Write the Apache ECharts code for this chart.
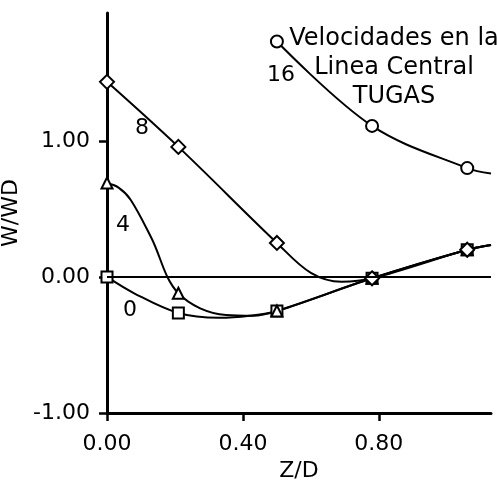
<!DOCTYPE html>
<html>
<head>
<meta charset="utf-8">
<script src="https://cdn.jsdelivr.net/npm/echarts@6/dist/echarts.min.js"></script>
<style>
  html, body { margin: 0; padding: 0; background: #fff; }
  #chart1 { width: 497px; height: 482px; }
</style>
</head>
<body>
<div id="chart1"></div>
<script>
// posiciones Z/D de las estaciones de medida (marcadores)
var zd = [0, 0.21, 0.5, 0.78, 1.06];
var zdFin = 1.13;   // donde acaba el trazo de la curva

// W/WD en los marcadores
var w0 = [0, -0.265, -0.25, -0.01, 0.2];
var w4 = [0.69, -0.12, -0.25, -0.01, 0.2];
var w8 = [1.434, 0.956, 0.25, -0.01, 0.2];
var zd16 = [0.5, 0.78, 1.06];
var w16 = [1.73, 1.11, 0.80];

// puntos leidos sobre el trazo (sin marcador), incluye el final
var traza0x = [0.08, 0.33, 0.42, zdFin];
var traza0y = [-0.12, -0.30, -0.285, 0.235];
var traza4x = [0.035, 0.07, 0.13, 0.35, 0.43, zdFin];
var traza4y = [0.655, 0.566, 0.29, -0.28, -0.285, 0.235];
var traza8x = [0.6, 0.69, zdFin];
var traza8y = [0.03, -0.035, 0.235];
var traza16x = [zdFin];
var traza16y = [0.76];

var xTicks = [0, 0.4, 0.8];
var yTicks = [-1, 0, 1];

var FONT = 'DejaVu Sans';

function makeData(xs, ys, tx, ty) {
    var out = [];
    for (var i = 0; i < xs.length; i++) {
        out.push({ value: [xs[i], ys[i]] });
    }
    for (var j = 0; j < tx.length; j++) {
        out.push({ value: [tx[j], ty[j]], symbol: 'none' });
    }
    out.sort(function (a, b) { return a.value[0] - b.value[0]; });
    return out;
}

function mkSeries(name, data, symbol, size) {
    return {
        type: 'line',
        name: name,
        data: data,
        smooth: 0.35,
        symbol: symbol,
        symbolSize: size,
        lineStyle: { color: '#000', width: 2 },
        itemStyle: { color: '#fff', borderColor: '#000', borderWidth: 2 },
        z: 3
    };
}

var chart = echarts.init(document.getElementById('chart1'));

var s0 = mkSeries('0', makeData(zd, w0, traza0x, traza0y), 'rect', 11);
s0.markLine = {
    silent: true,
    symbol: 'none',
    label: { show: false },
    lineStyle: { color: '#000', width: 2, type: 'solid' },
    data: [{ yAxis: 0 }]
};

var option = {
    animation: false,
    backgroundColor: '#fff',
    textStyle: { fontFamily: FONT },
    grid: { left: 107, right: 6, top: 13, bottom: 69, containLabel: false, outerBoundsMode: 'none' },
    title: {
        text: 'Velocidades en la\nLinea Central\nTUGAS',
        left: 389,
        top: 19,
        textAlign: 'center',
        textStyle: { fontFamily: FONT, fontSize: 24, fontWeight: 'normal', color: '#000', lineHeight: 29, align: 'center' }
    },
    xAxis: {
        type: 'value',
        min: 0,
        max: zdFin,
        name: 'Z/D',
        nameLocation: 'middle',
        nameGap: 46,
        nameTextStyle: { fontFamily: FONT, fontSize: 22, color: '#000' },
        axisLine: { show: true, onZero: false, lineStyle: { color: '#000', width: 3 } },
        axisTick: { show: true, length: 8, customValues: xTicks, lineStyle: { color: '#000', width: 2.5 } },
        axisLabel: {
            customValues: xTicks, margin: 20, color: '#000', fontFamily: FONT, fontSize: 22,
            formatter: function (v) { return v.toFixed(2); }
        },
        splitLine: { show: false }
    },
    yAxis: {
        type: 'value',
        min: -1,
        max: 1.94,
        name: 'W/WD',
        nameLocation: 'middle',
        nameGap: 70,
        nameTextStyle: { fontFamily: FONT, fontSize: 22, color: '#000' },
        axisLine: { show: true, onZero: false, lineStyle: { color: '#000', width: 3 } },
        axisTick: { show: true, length: 8, customValues: yTicks, lineStyle: { color: '#000', width: 2.5 } },
        axisLabel: {
            customValues: yTicks, margin: 17, color: '#000', fontFamily: FONT, fontSize: 22,
            formatter: function (v) { return v.toFixed(2); }
        },
        splitLine: { show: false }
    },
    graphic: [
        { type: 'text', left: 135, top: 117, style: { text: '8', font: '22px "DejaVu Sans"', fill: '#000' } },
        { type: 'text', left: 116, top: 214, style: { text: '4', font: '22px "DejaVu Sans"', fill: '#000' } },
        { type: 'text', left: 123, top: 299, style: { text: '0', font: '22px "DejaVu Sans"', fill: '#000' } },
        { type: 'text', left: 267, top: 64, style: { text: '16', font: '22px "DejaVu Sans"', fill: '#000' } }
    ],
    series: [
        s0,
        mkSeries('4', makeData(zd, w4, traza4x, traza4y), 'triangle', 11),
        mkSeries('8', makeData(zd, w8, traza8x, traza8y), 'diamond', 14),
        mkSeries('16', makeData(zd16, w16, traza16x, traza16y), 'circle', 12)
    ]
};

chart.setOption(option, true);
</script>
</body>
</html>
